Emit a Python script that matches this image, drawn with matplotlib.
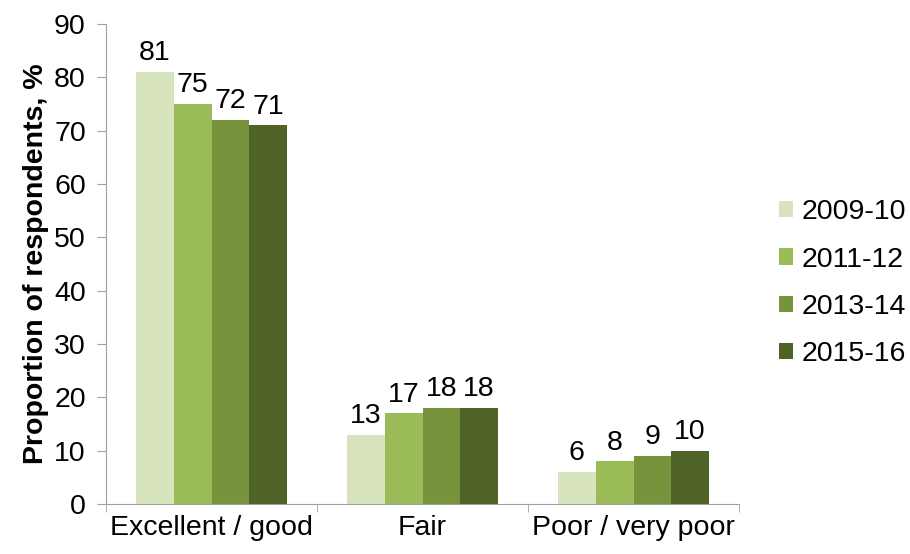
import numpy as np
import matplotlib
matplotlib.use('Agg')
from matplotlib import pyplot as plt

plt.rcParams['font.family'] = ['Liberation Sans', 'DejaVu Sans']

categories = ['Excellent / good', 'Fair', 'Poor / very poor']
years = ['2009-10', '2011-12', '2013-14', '2015-16']
values = {
    '2009-10': [81, 13, 6],
    '2011-12': [75, 17, 8],
    '2013-14': [72, 18, 9],
    '2015-16': [71, 18, 10],
}
colors = ['#d7e4bd', '#9bbb59', '#77933c', '#4f6228']

fig = plt.figure(figsize=(9.1, 5.54), dpi=100)
ax = fig.add_axes([106 / 910, 50 / 554, 633 / 910, 480 / 554])

x = np.arange(len(categories))
w = 0.179
for i, yr in enumerate(years):
    pos = x + (i - 1.5) * w
    bars = ax.bar(pos, values[yr], width=w, color=colors[i], label=yr)
    for b, v in zip(bars, values[yr]):
        ax.annotate(str(v), (b.get_x() + b.get_width() / 2, v), xytext=(0, 4),
                    textcoords='offset points', ha='center', va='bottom', fontsize=20.5)

ax.set_xlim(-0.5, 2.5)
ax.set_ylim(0, 90)
ax.set_yticks(range(0, 91, 10))
ax.set_xticks(x)
ax.set_xticklabels(categories)
ax.set_xticks([-0.5, 0.5, 1.5, 2.5], minor=True)
ax.tick_params(axis='x', which='major', length=0, labelsize=20.5, pad=8)
ax.tick_params(axis='x', which='minor', length=6, color='#a0a0a0')
ax.tick_params(axis='y', labelsize=20.5, length=6.5, color='#a0a0a0', pad=8)

for s in ['top', 'right']:
    ax.spines[s].set_visible(False)
for s in ['left', 'bottom']:
    ax.spines[s].set_color('#a0a0a0')

ax.set_ylabel('Proportion of respondents, %', fontsize=20.5, fontweight='bold', labelpad=4)

ax.legend(loc='center left', bbox_to_anchor=(798 / 633 - 106 / 633 - 0.03, 0.46), frameon=False,
          fontsize=20.5, handlelength=0.5, handleheight=0.5, handletextpad=0.3,
          labelspacing=0.75, borderpad=0, borderaxespad=0)

plt.savefig('out.png')
